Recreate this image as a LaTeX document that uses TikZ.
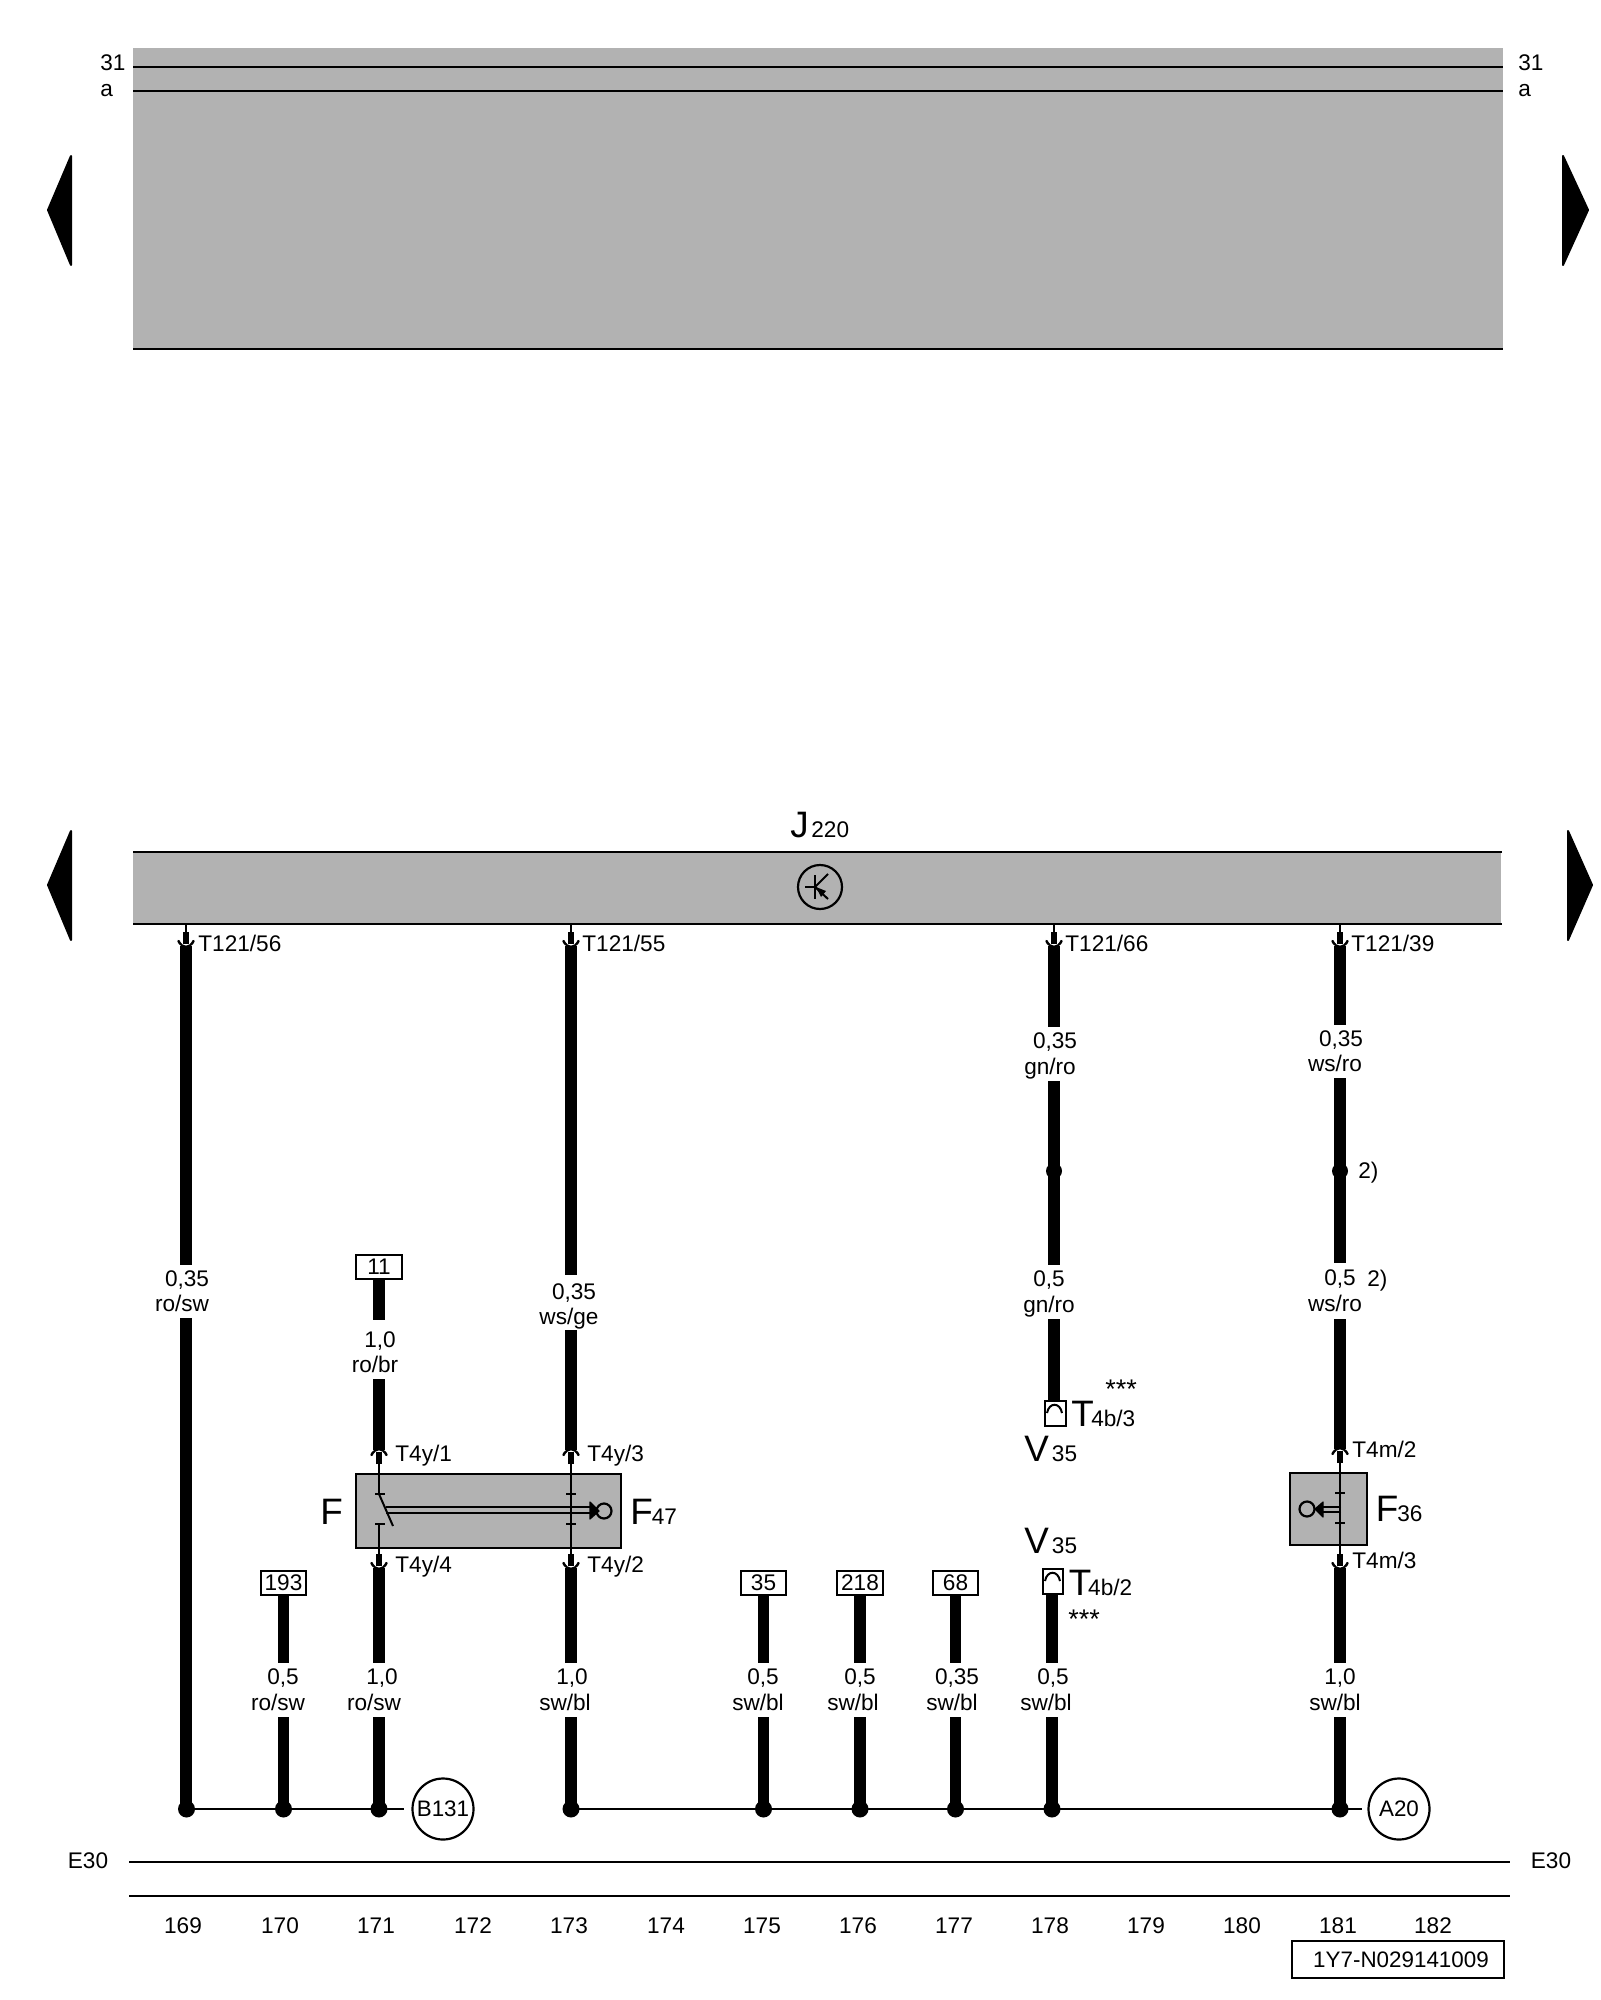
\documentclass[tikz,border=0pt]{standalone}
\usepackage{fontspec}
\setmainfont{Liberation Sans}
\usetikzlibrary{calc}
\definecolor{panel}{HTML}{B2B2B2}
\newcommand{\bigletter}[1]{{\fontsize{18.4}{20}\selectfont #1}}
\newcommand{\firstline}[2]{\kern#1pt\rule{0pt}{10pt}#2}
\newcommand{\secondline}[1]{\rule[-2.5pt]{0pt}{2.5pt}#1}
\newcommand{\stars}{{\fontsize{13.5}{14}\selectfont ***}}
% \wlabel{name}{x}{top of gap}{bottom of gap}{first-line shift}{line 1}{line 2}
\newcommand{\wlabel}[7]{\node[wirelabel,minimum height={(#4-#3)*0.5pt}] (#1) at (#2,{(#3+#4)/2}) {\firstline{#5}{#6}\\\secondline{#7}};}
% connector seen from above: stub comes down to the named point
\newcommand{\conn}[2]{\begin{scope}[shift={(#1)},yscale=#2]
 \draw[line width=1.25pt,line cap=round] (-7.5,-2) .. controls (-5,4.5) and (5,4.5) .. (7.5,-2);
 \draw[white,line width=1pt] (-5,-3) .. controls (-3.5,3) and (3.5,3) .. (5,-3);
 \draw[line width=3pt] (0,-11) -- (0,1);
 \end{scope}}
\tikzset{
 wire/.style={line width=5.9pt},
 thin wire/.style={line width=1.1pt},
 rule line/.style={line width=1.25pt},
 txt/.style={font=\fontsize{11.3}{12.75}\selectfont,inner sep=0pt,anchor=base west},
 ctxt/.style={font=\fontsize{11.3}{12.75}\selectfont,inner sep=0pt,anchor=base},
 wirelabel/.style={font=\fontsize{11.3}{12.75}\selectfont,inner sep=0pt,align=center,anchor=center},
 numbox/.style={draw,line width=1pt,fill=white,font=\fontsize{11.3}{12.75}\selectfont,inner sep=0pt,minimum width=22.7pt,minimum height=12pt},
 panelbox/.style={fill=panel,inner sep=0pt,anchor=north west},
 ground/.style={circle,draw,line width=1.1pt,inner sep=0pt,minimum size=30.5pt,font=\fontsize{11.2}{12.75}\selectfont},
 dot/.style={circle,fill=black,inner sep=0pt,minimum size=8.5pt},
 smalldot/.style={circle,fill=black,inner sep=0pt,minimum size=8pt},
 nav/.style={fill=black,draw=black,line width=1pt,line join=round},
 tick/.style={line width=0.9pt},
 plug/.style={draw,line width=1pt,fill=white,inner sep=0pt,anchor=north west}
}
\begin{document}
\begin{tikzpicture}[x=0.5pt,y=-0.5pt]
\useasboundingbox (0,0) rectangle (1600,2000);
% top panel
\node[panelbox,minimum width=684.75pt,minimum height=150pt] (top) at (133,48) {};
\coordinate (ltop) at (133,67); \coordinate (lsec) at (133,91); \coordinate (rbar) at (1502.5,0);
\draw[rule line] (ltop) -- (ltop -| rbar);
\draw[rule line] (lsec) -- (lsec -| rbar);
\draw[rule line] (top.south west) -- (top.south east);
\node[txt] (t31l) at (100,71) {31};
\node[txt] (tal) at (100,97) {a};
\node[txt] (t31r) at (1518,71) {31};
\node[txt] (tar) at (1518,97) {a};
% navigation arrows
\fill[nav] (48,210) -- (71,156) -- (71,265) -- cycle;
\fill[nav] (1588,210) -- (1563,156) -- (1563,265) -- cycle;
\fill[nav] (48,885) -- (71,831) -- (71,940) -- cycle;
\fill[nav] (1592,885) -- (1568,831) -- (1568,940) -- cycle;
% J220
\node[panelbox,minimum width=684pt,minimum height=35.5pt] (J) at (133,852) {};
\draw[rule line] (J.north west) -- (J.north east);
\draw[rule line] (J.south west) -- (J.south east);
\node[txt] (jname) at (790,837) {\bigletter{J}\kern1.3pt 220};
\node[circle,draw,line width=1.1pt,inner sep=0pt,minimum size=22pt] (trans) at (820,887) {};
\draw[line width=1pt] (815,875) -- (815,899);
\draw[line width=1pt] (805,887) -- (815,887);
\draw[line width=1pt] (828,874) -- (815,887) -- (828,899);
\fill (816,887) -- (826,891) -- (821,897) -- cycle;
% wires from J220
\coordinate (c1) at (186,943); \coordinate (c2) at (571,943); \coordinate (c3) at (1054,943); \coordinate (c4) at (1340,943);
\coordinate (g1) at (186,1809); \coordinate (g4) at (571,1809); \coordinate (g11) at (1340,1809);
\foreach \c in {c1,c2,c3,c4}{\draw[thin wire] (J.south -| \c) -- (\c);}
\node[txt] (p1) at (198,951) {T121/56};
\node[txt] (p2) at (582,951) {T121/55};
\node[txt] (p3) at (1065,951) {T121/66};
\node[txt] (p4) at (1351,951) {T121/39};
% wire 1
\wlabel{l1}{182}{1265}{1318}{5}{0,35}{ro/sw}
\draw[wire] ($(c1)+(0,3)$) -- (c1 |- l1.north);
\draw[wire] (c1 |- l1.south) -- (g1);
\conn{c1}{1}
% wire 2 (T121/55)
\wlabel{l2}{569}{1275}{1330}{5}{\rule{0pt}{12pt}0,35}{ws/ge}
\coordinate (c2d) at (571,1453);
\draw[wire] ($(c2)+(0,3)$) -- (c2 |- l2.north);
\draw[wire] (c2 |- l2.south) -- ($(c2d)+(0,-3)$);
\conn{c2}{1}
% box 11
\node[numbox] (b11) at (379,1267) {11};
\wlabel{l3}{375}{1320}{1379}{5}{\rule{0pt}{13pt}1,0}{ro/br}
\coordinate (c3d) at (379,1453);
\draw[wire] (b11.south) -- (b11.south |- l3.north);
\draw[wire] (b11.south |- l3.south) -- ($(c3d)+(0,-3)$);
% F / F47 switch
\node[panelbox,draw,line width=1.1pt,minimum width=132.5pt,minimum height=37pt] (sw) at (355,1473) {};
\coordinate (c3u) at (379,1565); \coordinate (c2u) at (571,1565);
\draw[thin wire] (c3d) -- (379,1494);
\draw[tick] (375,1494) -- (385,1494);
\draw[line width=1pt] (379,1494) -- (393,1526);
\draw[tick] (375,1524) -- (385,1524);
\draw[thin wire] (379,1524) -- (c3u);
\draw[thin wire] (c2d) -- (c2u);
\draw[tick] (566,1494) -- (576,1494);
\draw[tick] (566,1524) -- (576,1524);
\draw[line width=1pt] (386,1507) -- (592,1507);
\draw[line width=1pt] (386,1513) -- (592,1513);
\fill[line join=round,draw=black,line width=0.6pt] (590,1502) -- (599,1511) -- (590,1519) -- cycle;
\node[circle,draw,line width=1.1pt,inner sep=0pt,minimum size=7.5pt] (ball1) at (604,1511) {};
\conn{c3d}{-1} \conn{c2d}{-1} \conn{c3u}{1} \conn{c2u}{1}
\node[txt] (pf1) at (395,1461) {T4y/1};
\node[txt] (pf3) at (587,1461) {T4y/3};
\node[txt] (pf4) at (395,1572) {T4y/4};
\node[txt] (pf2) at (587,1572) {T4y/2};
\node[txt] (nf) at (320,1524) {\bigletter{F}};
\node[txt] (nf47) at (630,1524) {\bigletter{F}\kern-0.5pt 47};
% lower wires of the switch
\wlabel{l4}{374}{1663}{1717}{8}{1,0}{ro/sw}
\draw[wire] ($(c3u)+(0,3)$) -- (c3u |- l4.north);
\draw[wire] (c3u |- l4.south) -- (379,1809);
\wlabel{l5}{565}{1663}{1717}{7}{1,0}{sw/bl}
\draw[wire] ($(c2u)+(0,3)$) -- (c2u |- l5.north);
\draw[wire] (c2u |- l5.south) -- (g4);
% boxes with short wires
\node[numbox] (b193) at (283.5,1582.5) {193};
\wlabel{l6}{278}{1663}{1717}{5}{0,5}{ro/sw}
\draw[wire] (b193.south) -- (b193.south |- l6.north);
\draw[wire] (b193.south |- l6.south) -- (283.5,1809);
\node[numbox] (b35) at (763.5,1582.5) {35};
\wlabel{l7}{758}{1663}{1717}{5}{0,5}{sw/bl}
\draw[wire] (b35.south) -- (b35.south |- l7.north);
\draw[wire] (b35.south |- l7.south) -- (763.5,1809);
\node[numbox] (b218) at (860,1582.5) {218};
\wlabel{l8}{853}{1663}{1717}{7}{0,5}{sw/bl}
\draw[wire] (b218.south) -- (b218.south |- l8.north);
\draw[wire] (b218.south |- l8.south) -- (860,1809);
\node[numbox] (b68) at (955.5,1582.5) {68};
\wlabel{l9}{952}{1663}{1717}{5}{0,35}{sw/bl}
\draw[wire] (b68.south) -- (b68.south |- l9.north);
\draw[wire] (b68.south |- l9.south) -- (955.5,1809);
% V35 upper
\wlabel{l10}{1050}{1027}{1081}{5}{0,35}{gn/ro}
\wlabel{l11}{1049}{1265}{1319}{0}{0,5}{gn/ro}
\node[smalldot] (d3) at (1054,1171) {};
\draw[wire] ($(c3)+(0,3)$) -- (c3 |- l10.north);
\draw[wire] (c3 |- l10.south) -- (c3 |- l11.north);
\draw[wire] (c3 |- l11.south) -- (1054,1401);
\conn{c3}{1}
\node[plug,minimum width=10.5pt,minimum height=12.5pt] (pl1) at (1044,1400) {};
\draw[line width=1pt] (1047,1413) .. controls (1049,1402) and (1060,1402) .. (1062,1413);
\node[txt] (t4b3) at (1071,1426) {\bigletter{T}\kern-1.3pt 4b/3};
\node[txt] (st1) at (1105,1398) {\stars};
\node[txt] (v1) at (1024,1461) {\bigletter{V}\kern1.5pt 35};
% V35 lower
\node[txt] (v2) at (1024,1553) {\bigletter{V}\kern1.5pt 35};
\node[plug,minimum width=10pt,minimum height=12.5pt] (pl2) at (1042,1568) {};
\draw[line width=1pt] (1045,1581) .. controls (1047,1570) and (1058,1570) .. (1060,1581);
\node[txt] (t4b2) at (1068.5,1595) {\bigletter{T}\kern-1.6pt 4b/2};
\node[txt] (st2) at (1068,1628) {\stars};
\wlabel{l12}{1046}{1663}{1717}{7}{0,5}{sw/bl}
\draw[wire] (1052,1594) -- (1052,1663);
\draw[wire] (1052,1717) -- (1052,1809);
% wire T121/39
\wlabel{l13}{1335}{1025}{1078}{6}{0,35}{ws/ro}
\wlabel{l14}{1335}{1263}{1319}{5}{0,5}{ws/ro}
\node[smalldot] (d4) at (1340,1171) {};
\node[txt] (n2a) at (1358,1178) {2)};
\node[txt] (n2b) at (1367,1286) {2)};
\coordinate (c4d) at (1340,1452); \coordinate (c4u) at (1340,1565);
\draw[wire] ($(c4)+(0,3)$) -- (c4 |- l13.north);
\draw[wire] (c4 |- l13.south) -- (c4 |- l14.north);
\draw[wire] (c4 |- l14.south) -- ($(c4d)+(0,-3)$);
\conn{c4}{1}
% F36
\node[panelbox,draw,line width=1.1pt,minimum width=38.5pt,minimum height=36pt] (f36) at (1288.5,1472) {};
\draw[thin wire] (c4d) -- (c4u);
\draw[tick] (1335,1493) -- (1345,1493);
\draw[tick] (1335,1523) -- (1345,1523);
\draw[line width=1pt] (1341,1507) -- (1320,1507);
\draw[line width=1pt] (1341,1512) -- (1320,1512);
\fill[line join=round,draw=black,line width=0.6pt] (1323,1502) -- (1315,1509) -- (1323,1517) -- cycle;
\node[circle,draw,line width=1.1pt,inner sep=0pt,minimum size=7.5pt] (ball2) at (1307,1509) {};
\conn{c4d}{-1} \conn{c4u}{1}
\node[txt] (pm2) at (1352,1457) {T4m/2};
\node[txt] (pm3) at (1352,1568) {T4m/3};
\node[txt] (nf36) at (1375.5,1521) {\bigletter{F}\kern-0.5pt 36};
\wlabel{l15}{1335}{1663}{1717}{5}{1,0}{sw/bl}
\draw[wire] ($(c4u)+(0,3)$) -- (c4u |- l15.north);
\draw[wire] (c4u |- l15.south) -- (g11);
% ground lines
\node[ground] (B) at (443,1809) {B131};
\node[ground] (A) at (1399,1809) {A20};
\draw[line width=1.1pt,shorten >=3.5pt] (g1) -- (B.west);
\draw[line width=1.1pt,shorten >=2.5pt] (g4) -- (A.west);
\foreach \p/\n in {186.5/a1,283.5/a2,379/a3,571/a4,763.5/a5,860/a6,955.5/a7,1052/a8,1340/a9}{\node[dot] (\n) at (\p,1809) {};}
% footer
\coordinate (e1) at (129,1862); \coordinate (e2) at (1510,1862);
\coordinate (f1) at (129,1896); \coordinate (f2) at (1510,1896);
\draw[rule line] (e1) -- (e2);
\draw[rule line] (f1) -- (f2);
\node[ctxt] (el) at (88,1868) {E30};
\node[ctxt] (er) at (1551,1868) {E30};
\foreach \p/\n in {183/169,280/170,376/171,473/172,569/173,666/174,762/175,858/176,954/177,1050/178,1146/179,1242/180,1338/181,1433/182}{\node[ctxt] (n\n) at (\p,1933) {\n};}
\node[draw,line width=1.1pt,fill=white,inner sep=0pt,minimum width=106pt,minimum height=18.5pt,font=\fontsize{11.2}{12.75}\selectfont] (id) at (1398,1959.5) {\kern3pt 1Y7-N029141009};
\end{tikzpicture}
\end{document}
